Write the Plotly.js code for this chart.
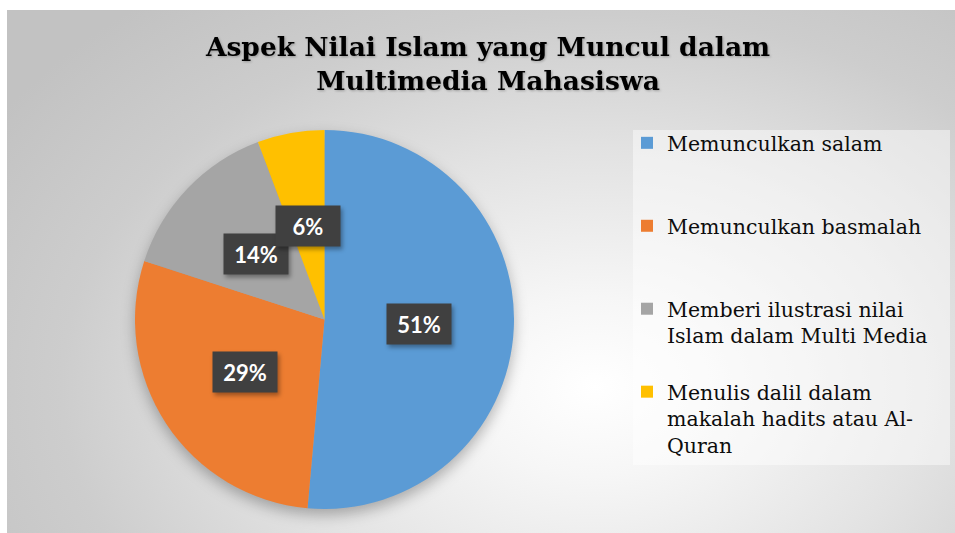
<!DOCTYPE html>
<html>
<head>
<meta charset="utf-8">
<script src="https://cdn.plot.ly/plotly-3.0.1.min.js"></script>
<style>
  html, body { margin: 0; padding: 0; background: #ffffff; }
  #wrap { position: relative; width: 955px; height: 533px; overflow: hidden; background: #ffffff; }
  #bg { position: absolute; left: 7px; top: 10px; right: 0; bottom: 0;
        background: radial-gradient(ellipse 75% 95% at 62% 72%, #ffffff 0%, #f6f6f6 18%, #e2e2e2 48%, #cdcdcd 75%, #c2c2c2 100%); }
  #chart { position: absolute; left: 0; top: 0; width: 955px; height: 533px; }
  #chart .pielayer .trace { filter: drop-shadow(0px 6px 7px rgba(0,0,0,0.28)); }
  #chart .annotation-text-g .bg { filter: drop-shadow(2px 3px 2px rgba(0,0,0,0.35)); }
  #chart .gtitle { filter: drop-shadow(1px 1px 1px rgba(0,0,0,0.25)); }
</style>
</head>
<body>
<div id="wrap"><div id="bg"></div><div id="chart"></div></div>
<script>
// ---- data ----
const titleLines = ["Aspek Nilai Islam yang Muncul dalam", "Multimedia Mahasiswa"];
const categories = [
  "Memunculkan salam",
  "Memunculkan basmalah",
  "Memberi ilustrasi nilai<br>Islam dalam Multi Media",
  "Menulis dalil dalam<br>makalah hadits atau Al-<br>Quran"
];
const values = [18, 10, 5, 2];
const colors = ["#5B9BD5", "#ED7D31", "#A5A5A5", "#FFC000"];

// ---- layout constants ----
const W = 955, H = 533;
const pieDomainX = [0.14136, 0.53822];
const pieDomainY = [0.04503, 0.75610];

const total = values.reduce((a, b) => a + b, 0);
const pctText = values.map(v => Math.round(v / total * 100) + "%");

// legend labels padded to three lines each so every entry gets the same slot
const legendLabels = categories.map(c => {
  const n = c.split("<br>").length;
  let s = c;
  for (let i = n; i < 3; i++) s += "<br>&nbsp;";
  return s;
});

// label positions from the data: half radius along each slice's mid angle
const cx = (pieDomainX[0] + pieDomainX[1]) / 2 * W;
const cy = (pieDomainY[0] + pieDomainY[1]) / 2 * H;
const R = Math.min((pieDomainX[1] - pieDomainX[0]) * W, (pieDomainY[1] - pieDomainY[0]) * H) / 2;
let cum = 0;
const annotations = values.map((v, i) => {
  const mid = (cum + v / 2) / total * 2 * Math.PI;
  cum += v;
  const px = cx + 0.5 * R * Math.sin(mid);
  const py = cy + 0.5 * R * Math.cos(mid);
  return {
    xref: "paper", yref: "paper", x: px / W, y: py / H,
    xanchor: "center", yanchor: "middle",
    text: "<b>" + pctText[i] + "</b>", showarrow: false,
    font: { family: "Lato", size: 22, color: "#ffffff" },
    bgcolor: "#404040", borderpad: 6, width: 52, height: 28
  };
});

const trace = {
  type: "pie",
  labels: legendLabels,
  values: values,
  marker: { colors: colors, line: { width: 0 } },
  sort: false,
  direction: "clockwise",
  rotation: 0,
  textinfo: "none",
  hoverinfo: "none",
  domain: { x: pieDomainX, y: pieDomainY }
};

const layout = {
  width: W, height: H,
  margin: { l: 0, r: 0, t: 0, b: 0 },
  paper_bgcolor: "rgba(0,0,0,0)",
  plot_bgcolor: "rgba(0,0,0,0)",
  title: {
    text: "<b>" + titleLines.join("<br>") + "</b>",
    font: { family: "DejaVu Serif", size: 26.5, color: "#000000" },
    x: 0.511, xref: "paper", xanchor: "center",
    y: 1 - 56 / H, yref: "container", yanchor: "top"
  },
  showlegend: true,
  legend: {
    x: 627 / W, xanchor: "left",
    y: 1 - 123 / H, yanchor: "top",
    bgcolor: "rgba(0,0,0,0)",
    font: { family: "DejaVu Serif", size: 20.5, color: "#0d0d0d" },
    valign: "top",
    traceorder: "normal"
  },
  shapes: [{
    type: "rect", xref: "paper", yref: "paper", layer: "below",
    x0: 633 / W, x1: 950 / W, y0: 1 - 465 / H, y1: 1 - 130 / H,
    fillcolor: "rgba(255,255,255,0.45)", line: { width: 0 }
  }],
  annotations: annotations
};

Plotly.newPlot("chart", [trace], layout, { displayModeBar: false, staticPlot: true });
</script>
</body>
</html>
